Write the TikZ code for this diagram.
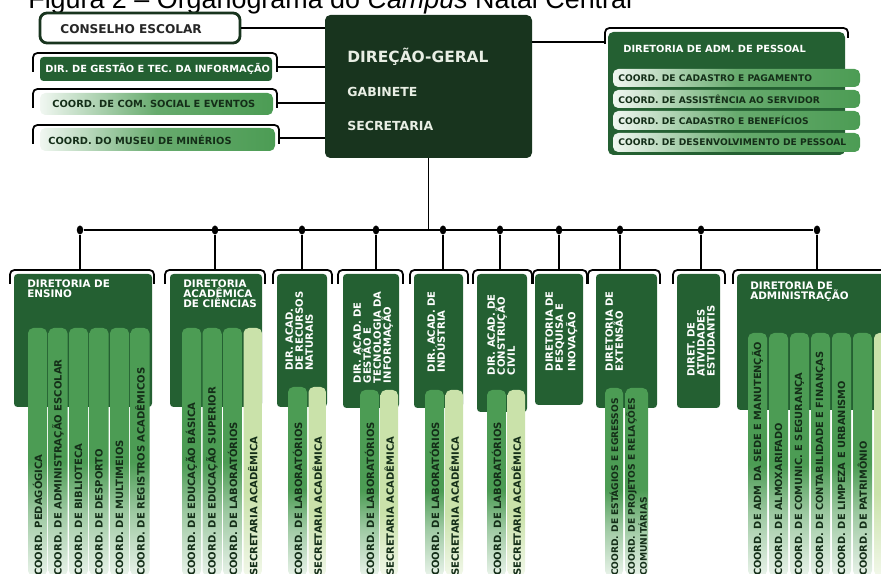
\documentclass[tikz,border=0pt]{standalone}
\usepackage{fontspec}
\setmainfont{Liberation Sans}
\newfontfamily\orgfont{DejaVu Sans}
\usetikzlibrary{fit,shapes.geometric}

\definecolor{dgdark}{RGB}{24,52,30}
\definecolor{dirgreen}{RGB}{36,96,50}
\definecolor{colgreen}{RGB}{76,156,84}
\definecolor{seclight}{RGB}{202,226,170}
\definecolor{inkgreen}{RGB}{20,46,24}
\definecolor{dgtext}{RGB}{232,238,228}

\pgfdeclareverticalshading{colfade}{100bp}{color(0bp)=(white); color(25bp)=(white!88!colgreen); color(38bp)=(colgreen!55!white); color(48bp)=(colgreen); color(100bp)=(colgreen)}
\pgfdeclareverticalshading{secfade}{100bp}{color(0bp)=(white); color(25bp)=(white!75!seclight); color(42bp)=(seclight); color(100bp)=(seclight)}

\newcommand{\pxu}{0.2mm}
\newcommand{\orgsize}[1]{\orgfont\bfseries\fontsize{#1}{#1}\selectfont}

\tikzset{
  wire/.style={line width=1pt},
  bracket/.style={draw, line width=1pt, rounded corners=2.5pt},
  dot/.style={ellipse, fill=black, inner sep=0pt, minimum width=6.5*\pxu, minimum height=9*\pxu},
  dirbox/.style={fill=dirgreen, rounded corners=2pt, inner sep=0pt},
  fadebar/.style={left color=white!92!colgreen, right color=colgreen, middle color=colgreen!85!white, rounded corners=3pt, inner sep=0pt},
  colbar/.style={shading=colfade, rounded corners=3pt, inner sep=0pt},
  secbar/.style={shading=secfade, rounded corners=3pt, inner sep=0pt},
  boxtitle/.style={text=white, align=left, inner sep=0pt, anchor=north west, font=\orgsize{5.9}},
  rottitle/.style={text=white, align=left, inner sep=0pt, rotate=90, anchor=north east, font=\orgsize{5.7}},
  coltext/.style={text=inkgreen, align=left, inner sep=0pt, rotate=90, anchor=west, font=\orgsize{5.7}},
  bartext/.style={text=inkgreen, inner sep=0pt, anchor=west, font=\orgsize{5.6}},
}

\begin{document}
\begin{tikzpicture}[x=\pxu, y=-\pxu]
\useasboundingbox (0,0) rectangle (881,574);

\node[anchor=base west, inner sep=0pt, font=\fontsize{15.3}{18}\selectfont] (title) at (28,9) {Figura 2 -- Organograma do \textit{Campus} Natal Central};

% direcao-geral
\node[fill=dgdark, rounded corners=3pt, inner sep=0pt, fit={(325,15) (532,158)}] (dg) {};
\node[anchor=west, inner sep=0pt, text=dgtext, font=\orgsize{8.8}] (dgname) at (347,57) {DIREÇÃO-GERAL};
\node[anchor=west, inner sep=0pt, text=dgtext, font=\orgsize{7.1}] (gab) at (347,92) {GABINETE};
\node[anchor=west, inner sep=0pt, text=dgtext, font=\orgsize{7.1}] (secr) at (347,126) {SECRETARIA};

% left column of boxes
\node[draw=dgdark, line width=1.6pt, fill=white, rounded corners=4pt, inner sep=0pt, fit={(40,13) (240,43)}] (cons) {};
\node[anchor=west, inner sep=0pt, text=black!85, font=\orgsize{6.9}] (conslab) at (60,29) {CONSELHO ESCOLAR};
\draw[wire] (cons.east) -- (cons.east -| dg.west);

\draw[bracket] (33,72) |- (277,53) -- (277,72);
\node[dirbox, fit={(40,57) (272,81)}] (gti) {};
\node[bartext, text=white] (gtilab) at (45,69) {DIR. DE GESTÃO E TEC. DA INFORMAÇÃO};
\coordinate (gtiR) at (277,67);
\draw[wire] (gtiR) -- (gtiR -| dg.west);

\draw[bracket] (33,108) |- (277,89) -- (277,108);
\node[fadebar, fit={(40,93) (273,115)}] (com) {};
\node[bartext] (comlab) at (52,104) {COORD. DE COM. SOCIAL E EVENTOS};
\coordinate (comR) at (277,103);
\draw[wire] (comR) -- (comR -| dg.west);

\draw[bracket] (33,144) |- (279,125) -- (279,144);
\node[fadebar, fit={(40,128) (275,151)}] (mus) {};
\node[bartext] (muslab) at (48,140) {COORD. DO MUSEU DE MINÉRIOS};
\coordinate (musR) at (279,138);
\draw[wire] (musR) -- (musR -| dg.west);

% diretoria de adm. de pessoal
\draw[bracket] (605,44) |- (848,28) -- (848,38);
\node[dirbox, rounded corners=3pt, fit={(608,32) (845,155)}] (pes) {};
\node[bartext, text=white] (peslab) at (623,49) {DIRETORIA DE ADM. DE PESSOAL};
\coordinate (pesL) at (605,42);
\draw[wire] (dg.east |- pesL) -- (pesL);
\foreach \ya/\yb/\lab [count=\i] in {69/87/COORD. DE CADASTRO E PAGAMENTO, 90/108/COORD. DE ASSISTÊNCIA AO SERVIDOR, 111/130/COORD. DE CADASTRO E BENEFÍCIOS, 133/152/COORD. DE DESENVOLVIMENTO DE PESSOAL} {
  \node[fadebar, fit={(613,\ya) (860,\yb)}] (pes\i) {};
  \node[bartext, font=\orgsize{5.2}] (pest\i) at (618,{(\ya+\yb)/2}) {\lab};
}

% bus to the directorates
\foreach \xd/\nm in {80/ens, 215/cie, 302/rec, 376/ges, 443/ind, 500/con, 559/pesq, 620/ext, 701/ati, 817/adm} {
  \node[dot] (d\nm) at (\xd,230) {};
  \coordinate (t\nm) at (\xd,270);
  \draw[wire] (d\nm) -- (t\nm);
}
\draw[wire] (dens) -- (dadm);
\draw[wire] (dg.south) -- (dg.south |- dens);

\foreach \ba/\bb/\xa/\xb/\yb/\nm in {10/154/14/152/407/ens, 165/265/170/262/407/cie, 273/332/277/327/407/rec, 338/403/343/399/408/ges, 410/468/414/463/408/ind, 473/532/477/527/412/con, 533/587/535/583/405/pesq, 588/660/596/657/408/ext, 673/725/677/720/408/ati, 733/905/737/905/410/adm} {
  \draw[bracket] (\ba,284) |- (\bb,270) -- (\bb,284);
  \node[dirbox, fit={(\xa,274) (\xb,\yb)}] (\nm) {};
}

\node[boxtitle] (enslab) at (27,279) {DIRETORIA DE\\ENSINO};
\node[boxtitle] (cielab) at (183,279) {DIRETORIA\\ACADÊMICA\\DE CIÊNCIAS};
\node[boxtitle] (admlab) at (750,281) {DIRETORIA DE\\ADMINISTRAÇÃO};
\node[rottitle] (reclab) at (285,291) {DIR. ACAD.\\DE RECURSOS\\NATURAIS};
\node[rottitle] (geslab) at (353,291) {DIR. ACAD. DE\\GESTÃO E\\TECNOLOGIA DA\\INFORMAÇÃO};
\node[rottitle] (indlab) at (427,291) {DIR. ACAD. DE\\INDÚSTRIA};
\node[rottitle] (conlab) at (487,294) {DIR. ACAD. DE\\CONSTRUÇÃO\\CIVIL};
\node[rottitle] (pesqlab) at (545,291) {DIRETORIA DE\\PESQUISA E\\INOVAÇÃO};
\node[rottitle] (extlab) at (605,291) {DIRETORIA DE\\EXTENSÃO};
\node[rottitle] (atilab) at (687,305) {DIRET. DE\\ATIVIDADES\\ESTUDANTIS};

% coordenacoes
\foreach \xa/\lab [count=\i] in {28/COORD. PEDAGÓGICA, 48.5/COORD. DE ADMINISTRAÇÃO ESCOLAR, 69/COORD. DE BIBLIOTECA, 89.5/COORD. DE DESPORTO, 110/COORD. DE MULTIMEIOS, 130.5/COORD. DE REGISTROS ACADÊMICOS} {
  \node[colbar, fit={(\xa,328) (\xa+19,576)}] (ensc\i) {};
  \node[coltext] (enst\i) at (ensc\i.south) {\lab};
}
\foreach \xa/\lab [count=\i] in {182/COORD. DE EDUCAÇÃO BÁSICA, 202.5/COORD. DE EDUCAÇÃO SUPERIOR, 223/COORD. DE LABORATÓRIOS} {
  \node[colbar, fit={(\xa,328) (\xa+19,576)}] (ciec\i) {};
  \node[coltext] (ciet\i) at (ciec\i.south) {\lab};
}
\node[secbar, fit={(243.5,328) (262,576)}] (cies) {};
\node[coltext] (ciest) at (cies.south) {SECRETARIA ACADÊMICA};

\foreach \xa/\yt/\nm in {288/387/rec, 360/390/ges, 425/390/ind, 487/390/con} {
  \node[colbar, fit={(\xa,\yt) (\xa+19,576)}] (\nm-cl) {};
  \node[secbar, fit={(\xa+20.5,\yt) (\xa+38,576)}] (\nm-cs) {};
  \node[coltext] (\nm-tl) at (\nm-cl.south) {COORD. DE LABORATÓRIOS};
  \node[coltext] (\nm-ts) at (\nm-cs.south) {SECRETARIA ACADÊMICA};
}

\node[colbar, fit={(605,388) (623,576)}] (ext-c1) {};
\node[colbar, fit={(625.5,388) (648,576)}] (ext-c2) {};
\node[coltext, font=\orgsize{5.2}] (ext-t1) at (ext-c1.south) {COORD. DE ESTÁGIOS E EGRESSOS};
\node[coltext, font=\orgsize{5.2}] (ext-t2) at (ext-c2.south) {COORD. DE PROJETOS E RELAÇÕES\\COMUNITÁRIAS};

\foreach \xa/\lab [count=\i] in {748/COORD. DE ADM DA SEDE E MANUTENÇÃO, 769/COORD. DE ALMOXARIFADO, 790/COORD. DE COMUNIC. E SEGURANÇA, 811/COORD. DE CONTABILIDADE E FINANÇAS, 832/COORD. DE LIMPEZA E URBANISMO, 853/COORD. DE PATRIMÔNIO} {
  \node[colbar, fit={(\xa,333) (\xa+19,576)}] (admc\i) {};
  \node[coltext, font=\orgsize{5.6}] (admt\i) at (admc\i.south) {\lab};
}
\node[secbar, fit={(874,333) (893,576)}] (admc7) {};
\end{tikzpicture}
\end{document}
